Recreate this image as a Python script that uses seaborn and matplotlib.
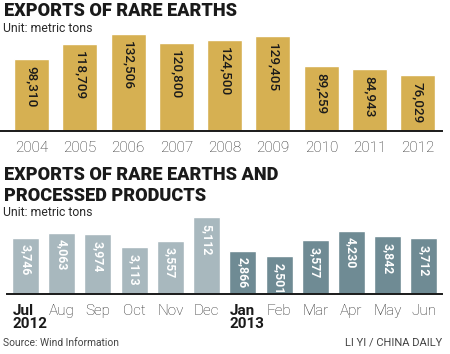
import matplotlib
matplotlib.use("Agg")
import matplotlib.pyplot as plt
import matplotlib.transforms as mtrans
import seaborn as sns
import pandas as pd

# ---- data ----
years = ["2004", "2005", "2006", "2007", "2008", "2009", "2010", "2011", "2012"]
annual_exports = [98310, 118709, 132506, 120800, 124500, 129405, 89259, 84943, 76029]

months = ["Jul\n2012", "Aug", "Sep", "Oct", "Nov", "Dec",
          "Jan\n2013", "Feb", "Mar", "Apr", "May", "Jun"]
month_year = ["2012"] * 6 + ["2013"] * 6
monthly_exports = [3746, 4063, 3974, 3113, 3557, 5112, 2866, 2501, 3577, 4230, 3842, 3712]
bold_ticks = ["Jul\n2012", "Jan\n2013"]

# ---- style ----
sns.set_theme(style="white")
FAM = ["Roboto", "DejaVu Sans"]
plt.rcParams["font.family"] = FAM

GOLD = "#D6B052"
LIGHT = "#A8B8BE"
DARK = "#6F8B94"
INK = "#1a1a1a"
W, H = 450, 354

fig = plt.figure(figsize=(W / 100, H / 100), dpi=100)
fig.patch.set_facecolor("white")


def px_axes(x0, y_top, x1, y_bottom):
    return fig.add_axes([x0 / W, 1 - y_bottom / H, (x1 - x0) / W, (y_bottom - y_top) / H])


def fmt(v):
    return f"{v:,}"


TITLE_FONT = dict(family=FAM, fontweight="black", color=INK)

# ---- top chart ----
ax1 = px_axes(0, 31, 442, 131)
df1 = pd.DataFrame({"year": years, "tons": annual_exports})
sns.barplot(data=df1, x="year", y="tons", color=GOLD, width=0.725, ax=ax1,
            saturation=1, errorbar=None)
ax1.set_xlim(-0.652, 8.5)
ax1.set_ylim(0, 136600)
for i, v in enumerate(annual_exports):
    ax1.annotate(fmt(v), xy=(i, v), xytext=(0, -5), textcoords="offset points",
                 rotation=270, ha="center", va="top", fontsize=9.7, color=INK,
                 fontweight="medium", family=FAM)

# ---- bottom chart ----
ax2 = px_axes(7, 214, 442, 294)
df2 = pd.DataFrame({"month": months, "tons": monthly_exports, "yr": month_year})
sns.barplot(data=df2, x="month", y="tons", hue="yr", dodge=False,
            palette={"2012": LIGHT, "2013": DARK}, width=0.745, ax=ax2,
            saturation=1, errorbar=None, legend=False)
ax2.set_xlim(-0.51, 11.5)
ax2.set_ylim(0, 5333)
for i, v in enumerate(monthly_exports):
    ax2.annotate(fmt(v), xy=(i, v), xytext=(0, -4.5), textcoords="offset points",
                 rotation=270, ha="center", va="top", fontsize=8.8, color="white",
                 fontweight="bold", family=FAM)

for ax in (ax1, ax2):
    ax.set_facecolor("none")
    ax.set_xlabel("")
    ax.set_ylabel("")
    ax.set_yticks([])
    for s in ("top", "right", "left"):
        ax.spines[s].set_visible(False)
    ax.spines["bottom"].set_color(INK)
    ax.spines["bottom"].set_linewidth(1.4)
    ax.tick_params(axis="x", length=0, pad=7, labelsize=11, labelcolor="#2a2a2a")
    for lab in ax.get_xticklabels():
        lab.set_fontweight("light")

for lab in ax2.get_xticklabels():
    lab.set_verticalalignment("top")
    lab.set_linespacing(0.95)
    if lab.get_text() in bold_ticks:
        lab.set_fontweight("bold")
        lab.set_horizontalalignment("left")
        lab.set_color(INK)
        lab.set_transform(lab.get_transform() +
                          mtrans.ScaledTranslation(-13 / 100, 0, fig.dpi_scale_trans))

# ---- texts ----
def ftext(x, y, s, **kw):
    fig.text(x / W, 1 - y / H, s, **kw)

ftext(4, 11.5, "EXPORTS OF RARE EARTHS", fontsize=13.1, va="center", ha="left", **TITLE_FONT)
ftext(3, 28, "Unit: metric tons", fontsize=8.8, va="center", ha="left", color="#2a2a2a")

ftext(4, 175.5, "EXPORTS OF RARE EARTHS AND", fontsize=13.1, va="center", ha="left", **TITLE_FONT)
ftext(4, 195.5, "PROCESSED PRODUCTS", fontsize=13.1, va="center", ha="left", **TITLE_FONT)
ftext(3, 212, "Unit: metric tons", fontsize=8.8, va="center", ha="left", color="#2a2a2a")

ftext(3, 343, "Source: Wind Information", fontsize=7.4, va="center", ha="left", color="#444444")
ftext(442, 343, "LI YI / CHINA DAILY", fontsize=8.0, va="center", ha="right", color="#444444")

fig.savefig("out.png", dpi=100, facecolor="white")
